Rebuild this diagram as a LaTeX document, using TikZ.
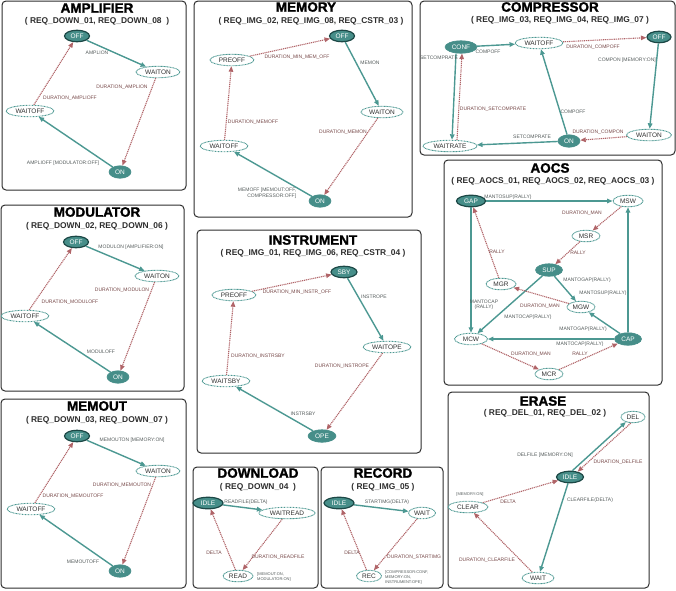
\documentclass[tikz,border=0pt]{standalone}
\usepackage{fontspec}
\setmainfont{Liberation Sans}
\newfontfamily\heavyfont[BoldFeatures={FakeBold=1.6}]{Liberation Sans}
\usetikzlibrary{arrows.meta,shapes.geometric}
\definecolor{tealedge}{RGB}{76,152,146}
\definecolor{tealfill}{RGB}{70,142,137}
\definecolor{tealdark}{RGB}{28,72,70}
\definecolor{redge}{RGB}{176,100,104}
\definecolor{lblgray}{RGB}{85,92,92}
\definecolor{lblred}{RGB}{118,72,72}
\definecolor{panelc}{RGB}{45,45,45}
\definecolor{ntext}{RGB}{50,50,50}
\tikzset{
  panel/.style={draw=panelc, line width=1pt, rounded corners=4pt},
  ttl/.style={font=\fontsize{13.5}{14}\selectfont\heavyfont\bfseries, inner sep=0pt, text=black},
  subt/.style={font=\fontsize{8.4}{9}\selectfont\bfseries, inner sep=0pt, text=panelc},
  basenode/.style={ellipse, inner sep=0pt, minimum height=11.5pt, font=\fontsize{6.5}{7}\selectfont},
  stnode/.style={basenode, draw=tealedge, line width=0.9pt, dash pattern=on 0.9pt off 0.6pt, fill=white, text=ntext},
  initnode/.style={basenode, draw=tealdark, line width=1.2pt, fill=tealfill, text=white},
  actnode/.style={basenode, draw=tealfill, line width=0.6pt, fill=tealfill, text=white, minimum height=12.5pt},
  nw/.style={minimum width=#1pt},
  tredge/.style={draw=tealedge, line width=1.4pt, -{Triangle[length=5.5pt,width=4.5pt]}},
  duredge/.style={draw=redge, line width=1.1pt, dash pattern=on 1.1pt off 0.8pt, -{Triangle[length=5.5pt,width=4.5pt]}},
  lbl/.style={font=\fontsize{5}{5.5}\selectfont, inner sep=0pt, text=lblgray},
  lblr/.style={font=\fontsize{5}{5.5}\selectfont, inner sep=0pt, text=lblred},
  tiny/.style={font=\fontsize{4}{5}\selectfont, inner sep=0pt, text=lblgray, align=left},
}
\begin{document}
\begin{tikzpicture}[x=1pt,y=-1pt]
\useasboundingbox (0,0) rectangle (676,590);
% ---------------- panels ----------------
\draw[panel] (2,1) rectangle (186,190);
\draw[panel] (194,1) rectangle (412,217);
\draw[panel] (420,1) rectangle (675,155);
\draw[panel] (444,160) rectangle (662,385);
\draw[panel] (1,205) rectangle (184,391);
\draw[panel] (1,399) rectangle (186,588);
\draw[panel] (197,230) rectangle (421,453);
\draw[panel] (193,467) rectangle (318,588);
\draw[panel] (321,467) rectangle (443,588);
\draw[panel] (448,392) rectangle (649,588);
% ---------------- AMPLIFIER ----------------
\node[ttl] (tA) at (97,8) {AMPLIFIER};
\node[subt] (sA) at (97,21) {( REQ\_DOWN\_01, REQ\_DOWN\_08 \ )};
\node[initnode,nw=25] (aOFF) at (77,36) {OFF};
\node[stnode,nw=44] (aWON) at (158,72) {WAITON};
\node[stnode,nw=48] (aWOFF) at (30,111) {WAITOFF};
\node[actnode,nw=22] (aON) at (120,172) {ON};
\draw[tredge] (aOFF) -- (aWON);
\draw[duredge] (aWON) -- (aON);
\draw[tredge] (aON) -- (aWOFF);
\draw[duredge] (aWOFF) -- (aOFF);
\node[lbl] (la1) at (97,53) {AMPLION};
\node[lblr] (la2) at (122,87) {DURATION\_AMPLION};
\node[lbl] (la3) at (63,163) {AMPLIOFF [MODULATOR:OFF]};
\node[lblr] (la4) at (70,98) {DURATION\_AMPLIOFF};
% ---------------- MODULATOR ----------------
\node[ttl] (tM) at (97,212) {MODULATOR};
\node[subt] (sM) at (97,226) {( REQ\_DOWN\_02, REQ\_DOWN\_06 )};
\node[initnode,nw=25] (mOFF) at (76,242) {OFF};
\node[stnode,nw=44] (mWON) at (157,276) {WAITON};
\node[stnode,nw=48] (mWOFF) at (25,316) {WAITOFF};
\node[actnode,nw=22] (mON) at (118,377) {ON};
\draw[tredge] (mOFF) -- (mWON);
\draw[duredge] (mWON) -- (mON);
\draw[tredge] (mON) -- (mWOFF);
\draw[duredge] (mWOFF) -- (mOFF);
\node[lbl] (lm1) at (131,247) {MODULON [AMPLIFIER:ON]};
\node[lblr] (lm2) at (122,290) {DURATION\_MODULON};
\node[lblr] (lm3) at (70,302) {DURATION\_MODULOFF};
\node[lbl] (lm4) at (101,352) {MODULOFF};
% ---------------- MEMOUT ----------------
\node[ttl] (tO) at (97,406) {MEMOUT};
\node[subt] (sO) at (97,420) {( REQ\_DOWN\_03, REQ\_DOWN\_07 )};
\node[initnode,nw=25] (oOFF) at (77,436) {OFF};
\node[stnode,nw=44] (oWON) at (158,471) {WAITON};
\node[stnode,nw=48] (oWOFF) at (31,509) {WAITOFF};
\node[actnode,nw=22] (oON) at (120,571) {ON};
\draw[tredge] (oOFF) -- (oWON);
\draw[duredge] (oWON) -- (oON);
\draw[tredge] (oON) -- (oWOFF);
\draw[duredge] (oWOFF) -- (oOFF);
\node[lbl] (lo1) at (132,440) {MEMOUTON [MEMORY:ON]};
\node[lblr] (lo2) at (122,485) {DURATION\_MEMOUTON};
\node[lblr] (lo3) at (73,496) {DURATION\_MEMOUTOFF};
\node[lbl] (lo4) at (83,562) {MEMOUTOFF};
% ---------------- MEMORY ----------------
\node[ttl] (tY) at (306,7) {MEMORY};
\node[subt] (sY) at (311,21) {( REQ\_IMG\_02, REQ\_IMG\_08, REQ\_CSTR\_03 )};
\node[initnode,nw=25] (yOFF) at (342,36) {OFF};
\node[stnode,nw=44] (yPRE) at (232,60) {PREOFF};
\node[stnode,nw=42] (yWON) at (382,112) {WAITON};
\node[stnode,nw=48] (yWOFF) at (224,146) {WAITOFF};
\node[actnode,nw=22] (yON) at (320,201) {ON};
\draw[duredge] (yPRE) -- (yOFF);
\draw[tredge] (yOFF) -- (yWON);
\draw[duredge] (yWON) -- (yON);
\draw[tredge] (yON) -- (yWOFF);
\draw[duredge] (yWOFF) -- (yPRE);
\node[lblr] (ly1) at (297,57) {DURATION\_MIN\_MEM\_OFF};
\node[lbl] (ly2) at (370,63) {MEMON};
\node[lblr] (ly3) at (343,132) {DURATION\_MEMON};
\node[lbl,align=right] (ly4) at (267,193) {MEMOFF [MEMOUT:OFF,\\ COMPRESSOR:OFF]};
\node[lblr] (ly5) at (253,122) {DURATION\_MEMOFF};
% ---------------- INSTRUMENT ----------------
\node[ttl] (tI) at (313,240) {INSTRUMENT};
\node[subt] (sI) at (313,253) {( REQ\_IMG\_01, REQ\_IMG\_06, REQ\_CSTR\_04 )};
\node[initnode,nw=26] (iSBY) at (344,272) {SBY};
\node[stnode,nw=44] (iPRE) at (234,295) {PREOFF};
\node[stnode,nw=48] (iWOPE) at (387,347) {WAITOPE};
\node[stnode,nw=48] (iWSBY) at (226,381) {WAITSBY};
\node[actnode,nw=28] (iOPE) at (322,436) {OPE};
\draw[duredge] (iPRE) -- (iSBY);
\draw[tredge] (iSBY) -- (iWOPE);
\draw[duredge] (iWOPE) -- (iOPE);
\draw[tredge] (iOPE) -- (iWSBY);
\draw[duredge] (iWSBY) -- (iPRE);
\node[lblr] (li1) at (297,292) {DURATION\_MIN\_INSTR\_OFF};
\node[lbl] (li2) at (374,297) {INSTROPE};
\node[lblr] (li3) at (258,356) {DURATION\_INSTRSBY};
\node[lblr] (li4) at (342,366) {DURATION\_INSTROPE};
\node[lbl] (li5) at (303,414) {INSTRSBY};
% ---------------- COMPRESSOR ----------------
\node[ttl] (tC) at (550,7) {COMPRESSOR};
\node[subt] (sC) at (560,20) {( REQ\_IMG\_03, REQ\_IMG\_04, REQ\_IMG\_07 )};
\node[actnode,nw=32] (cCONF) at (461,47) {CONF};
\node[stnode,nw=48] (cWOFF) at (539,43) {WAITOFF};
\node[initnode,nw=24] (cOFF) at (659,37) {OFF};
\node[stnode,nw=45] (cWON) at (649,135) {WAITON};
\node[actnode,nw=22] (cON) at (569,141) {ON};
\node[stnode,nw=54] (cWR) at (450,146) {WAITRATE};
\draw[tredge] (cCONF) -- (cWOFF);
\draw[duredge] (cWOFF) -- (cOFF);
\draw[tredge] (cOFF) -- (cWON);
\draw[duredge] (cWON) -- (cON);
\draw[tredge] (cON) -- (cWR);
\draw[tredge] (cON) -- (cWOFF);
\draw[tredge] ([xshift=-5pt]cCONF.south) -- ([xshift=2pt]cWR.north);
\draw[duredge] ([xshift=7pt]cWR.north) -- ([xshift=1pt]cCONF.south);
\node[lbl] (lc1) at (488,52) {COMPOFF};
\node[lblr] (lc2) at (593,47) {DURATION\_COMPOFF};
\node[lbl] (lc3) at (627,60) {COMPON [MEMORY:ON]};
\node[lblr] (lc4) at (598,132) {DURATION\_COMPON};
\node[lbl] (lc5) at (532,137) {SETCOMPRATE};
\node[lbl] (lc6) at (573,112) {COMPOFF};
\node[lbl] (lc7) at (439,58) {SETCOMPRATE};
\node[lblr] (lc8) at (493,109) {DURATION\_SETCOMPRATE};
% ---------------- AOCS ----------------
\node[ttl] (tS) at (550,168) {AOCS};
\node[subt] (sS) at (553,181) {( REQ\_AOCS\_01, REQ\_AOCS\_02, REQ\_AOCS\_03 )};
\node[initnode,nw=29] (GAP) at (471,201) {GAP};
\node[stnode,nw=30] (MSW) at (628,201) {MSW};
\node[stnode,nw=28] (MSR) at (586,236) {MSR};
\node[actnode,nw=27] (SUP) at (549,270) {SUP};
\node[stnode,nw=30] (MGR) at (501,284) {MGR};
\node[stnode,nw=28] (MGW) at (581,307) {MGW};
\node[stnode,nw=33] (MCW) at (471,339) {MCW};
\node[actnode,nw=27] (CAP) at (628,339) {CAP};
\node[stnode,nw=28] (MCR) at (549,374) {MCR};
\draw[tredge] (GAP) -- (MSW);
\draw[duredge] (MSW) -- (MSR);
\draw[duredge] (MSR) -- (SUP);
\draw[tredge] (GAP) -- (MCW);
\draw[duredge] (MGR) -- (GAP);
\draw[tredge] (SUP) -- (MGW);
\draw[tredge] (SUP) -- (MCW);
\draw[duredge] (MGW) -- (MGR);
\draw[tredge] (CAP) -- (MSW);
\draw[tredge] (CAP) -- (MGW);
\draw[tredge] (CAP) -- (MCW);
\draw[duredge] (MCW) -- (MCR);
\draw[duredge] (MCR) -- (CAP);
\node[lbl] (ls1) at (508,197) {MANTOSUP(RALLY)};
\node[lblr] (ls2) at (582,213) {DURATION\_MAN};
\node[lblr] (ls3) at (578,253) {RALLY};
\node[lbl,align=center] (ls4) at (484,305) {MANTOCAP\\(RALLY)};
\node[lblr] (ls5) at (497,252) {RALLY};
\node[lbl] (ls6) at (587,280) {MANTOGAP(RALLY)};
\node[lbl] (ls7) at (528,317) {MANTOCAP(RALLY)};
\node[lblr] (ls8) at (540,306) {DURATION\_MAN};
\node[lbl] (ls9) at (603,293) {MANTOSUP(RALLY)};
\node[lbl] (ls10) at (583,329) {MANTOGAP(RALLY)};
\node[lbl] (ls11) at (580,344) {MANTOCAP(RALLY)};
\node[lblr] (ls12) at (531,354) {DURATION\_MAN};
\node[lblr] (ls13) at (580,354) {RALLY};
% ---------------- DOWNLOAD ----------------
\node[ttl] (tD) at (258,473) {DOWNLOAD};
\node[subt] (sD) at (258,487) {( REQ\_DOWN\_04 \ )};
\node[initnode,nw=30] (dIDLE) at (208,503) {IDLE};
\node[stnode,nw=56] (dWR) at (287,513) {WAITREAD};
\node[stnode,nw=30] (dREAD) at (238,576) {READ};
\draw[tredge] (dIDLE) -- (dWR);
\draw[duredge] (dWR) -- (dREAD);
\draw[duredge] (dREAD) -- (dIDLE);
\node[lbl] (ld1) at (246,502) {READFILE(DELTA)};
\node[lblr] (ld2) at (214,553) {DELTA};
\node[lblr] (ld3) at (278,557) {DURATION\_READFILE};
\node[tiny,anchor=west] (ld4) at (257,577) {[MEMOUT:ON,\\ MODULATOR:ON]};
% ---------------- RECORD ----------------
\node[ttl] (tR) at (383,473) {RECORD};
\node[subt] (sR) at (383,487) {( REQ\_IMG\_05 )};
\node[initnode,nw=30] (rIDLE) at (339,503) {IDLE};
\node[stnode,nw=27] (rWAIT) at (422,513) {WAIT};
\node[stnode,nw=25] (rREC) at (369,576) {REC};
\draw[tredge] (rIDLE) -- (rWAIT);
\draw[duredge] (rWAIT) -- (rREC);
\draw[duredge] (rREC) -- (rIDLE);
\node[lbl] (lr1) at (387,502) {STARTIMG(DELTA)};
\node[lblr] (lr2) at (352,553) {DELTA};
\node[lblr,anchor=west] (lr3) at (387,557) {DURATION\_STARTIMG};
\node[tiny,anchor=west] (lr4) at (385,577) {[COMPRESSOR:CONF,\\ MEMORY:ON,\\ INSTRUMENT:OPE]};
% ---------------- ERASE ----------------
\node[ttl] (tE) at (543,401) {ERASE};
\node[subt] (sE) at (545,413) {( REQ\_DEL\_01, REQ\_DEL\_02 )};
\node[stnode,nw=24] (eDEL) at (633,417) {DEL};
\node[initnode,nw=27] (eIDLE) at (570,477) {IDLE};
\node[stnode,nw=40] (eCLEAR) at (468,507) {CLEAR};
\node[stnode,nw=32] (eWAIT) at (538,578) {WAIT};
\draw[tredge] (eIDLE.70) -- (eDEL.215);
\draw[duredge] (eDEL.250) -- (eIDLE.35);
\draw[tredge] (eIDLE) -- (eWAIT);
\draw[duredge] (eWAIT) -- (eCLEAR);
\draw[duredge] (eCLEAR) -- (eIDLE);
\node[lbl] (le1) at (545,455) {DELFILE [MEMORY:ON]};
\node[lblr] (le2) at (618,462) {DURATION\_DELFILE};
\node[lbl] (le3) at (590,500) {CLEARFILE(DELTA)};
\node[lblr] (le4) at (487,560) {DURATION\_CLEARFILE};
\node[lblr] (le5) at (508,502) {DELTA};
\node[tiny] (le6) at (470,494) {[MEMORY:ON]};
\end{tikzpicture}
\end{document}
